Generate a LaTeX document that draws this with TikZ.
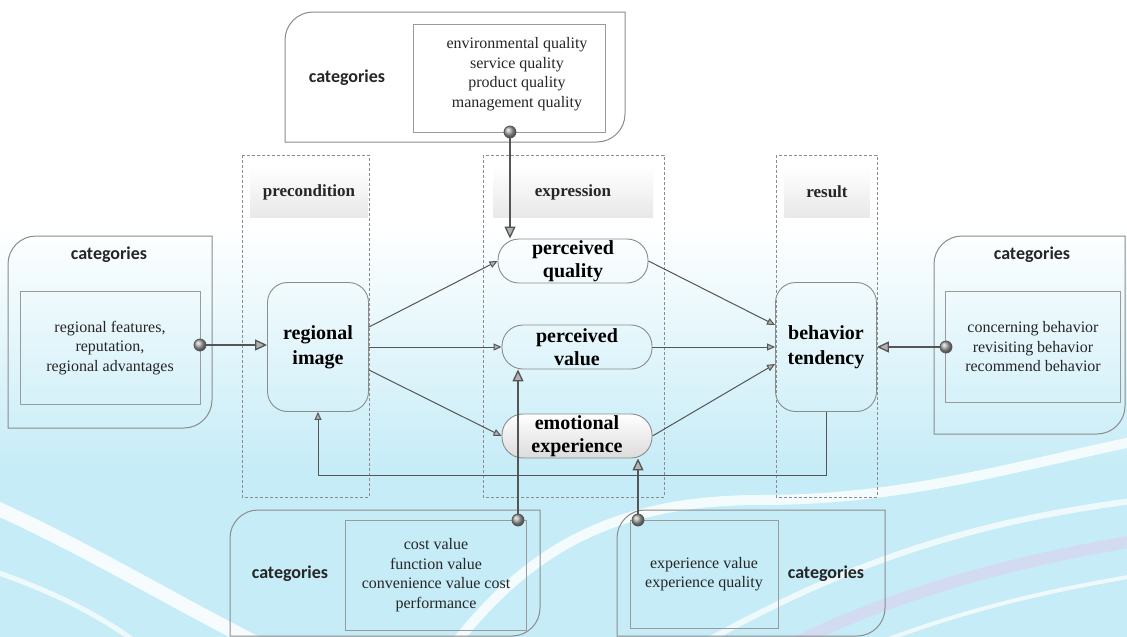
\documentclass[tikz,border=0pt]{standalone}
\usepackage{fontspec}
\setmainfont{Liberation Serif}
\newfontfamily\catfont{Carlito}
\usetikzlibrary{arrows.meta,calc}
\definecolor{bgblue}{HTML}{C6ECF7}
\definecolor{linegray}{HTML}{8C8C8C}
\definecolor{innergray}{HTML}{9A9A9A}
\definecolor{arrgray}{HTML}{555555}
\newcommand\rdbox[5]{%
  \draw[outerbox] (#1,#4) -- (#1,#2+#5) .. controls (#1,#2+0.45*#5) and (#1+0.45*#5,#2) .. (#1+#5,#2)
    -- (#3,#2) -- (#3,#4-#5) .. controls (#3,#4-0.45*#5) and (#3-0.45*#5,#4) .. (#3-#5,#4) -- cycle;}
\tikzset{
  outerbox/.style={draw=linegray, line width=1pt},
  lane/.style={draw=linegray, dash pattern=on 3pt off 2pt, line width=0.7pt},
  header/.style={minimum height=51pt, inner sep=0pt, top color=white, bottom color=black!9,
     font=\fontsize{17}{20}\selectfont\bfseries, text=black!85},
  bignode/.style={draw=linegray, line width=0.9pt, rounded corners=20pt, minimum width=101pt,
     minimum height=129pt, align=center, font=\fontsize{20}{25}\selectfont\bfseries, inner sep=0pt},
  pill/.style={draw=linegray, line width=0.9pt, rounded corners=21pt, minimum width=150pt,
     minimum height=44pt, align=center, font=\fontsize{20}{23}\selectfont\bfseries, inner sep=0pt},
  catlabel/.style={font=\catfont\fontsize{18}{22}\selectfont\bfseries, text=black!85},
  innerbox/.style={draw=innergray, line width=0.9pt, inner sep=0pt},
  cattext/.style={align=center, font=\fontsize{16}{19.5}\selectfont, text=black!85},
  dot/.style={circle, draw=arrgray, line width=0.8pt, ball color=gray!70, minimum size=12pt, inner sep=0pt},
  bigarr/.style={draw=arrgray, line width=1.3pt, -{Triangle[length=12pt,width=11pt,fill=gray!60]}},
  smallarr/.style={draw=arrgray, line width=1pt, -{Triangle[length=8pt,width=7pt,fill=gray!60]}},
}
\begin{document}
\begin{tikzpicture}[x=1pt,y=-1pt]
\useasboundingbox (0,0) rectangle (1127,637);
% background
\fill[white] (0,0) rectangle (1127,637);
\shade[top color=white, bottom color=bgblue] (0,225) rectangle (1127,470);
\fill[bgblue] (0,469) rectangle (1127,637);
% decorative swooshes
\draw[white, line width=14pt, opacity=0.85] (-10,505) .. controls (90,550) and (170,600) .. (270,650);
\draw[white, line width=5pt, opacity=0.7] (-10,570) .. controls (50,590) and (100,615) .. (140,645);
\draw[white, line width=10pt, opacity=0.8] (450,650) .. controls (520,560) and (600,500) .. (760,500) .. controls (900,500) and (1000,470) .. (1140,440);
\draw[white, line width=6pt, opacity=0.7] (700,645) .. controls (850,560) and (980,520) .. (1140,500);
\draw[blue!25!violet!20, line width=12pt, opacity=0.5] (780,650) .. controls (900,590) and (1020,560) .. (1140,540);
\draw[white, line width=4pt, opacity=0.7] (860,650) .. controls (960,610) and (1050,590) .. (1140,575);
% swimlanes
\draw[lane] (242,155) rectangle (369,497);
\draw[lane] (483,155) rectangle (664,497);
\draw[lane] (776,155) rectangle (877,497);
\node[header, minimum width=118pt] (h1) at (309,192) {precondition};
\node[header, minimum width=160pt] (h2) at (573,192) {expression};
\node[header, minimum width=85pt] (h3) at (827,192) {result};
% outer category boxes
\rdbox{285}{12}{625}{142}{28}
\rdbox{8}{236}{212}{428}{28}
\rdbox{934}{236}{1125}{434}{28}
\rdbox{230}{510}{540}{636}{28}
\rdbox{617}{510}{885}{636}{28}
% top categories
\node[catlabel] (ct) at (347,78) {categories};
\node[innerbox, minimum width=192pt, minimum height=108pt] (it) at (509,78) {};
\node[cattext] (tt) at (517,74) {environmental quality\\service quality\\product quality\\management quality};
% left categories
\node[catlabel] (cl) at (109,255) {categories};
\node[innerbox, minimum width=180pt, minimum height=113pt, cattext] (il) at (110,348) {regional features,\\reputation,\\regional advantages};
% right categories
\node[catlabel] (cr) at (1032,255) {categories};
\node[innerbox, minimum width=175pt, minimum height=111pt, cattext] (ir) at (1033,347) {concerning behavior\\revisiting behavior\\recommend behavior};
% bottom categories 1
\node[catlabel] (cb1) at (290,574) {categories};
\node[innerbox, minimum width=181pt, minimum height=110pt, cattext] (ib1) at (436,575) {cost value\\function value\\convenience value cost\\performance};
% bottom categories 2
\node[catlabel] (cb2) at (826,574) {categories};
\node[innerbox, minimum width=148pt, minimum height=108pt, cattext] (ib2) at (704,574) {experience value\\experience quality};
% main nodes
\node[bignode] (ri) at (318,347) {regional\\image};
\node[bignode] (bt) at (826,347) {behavior\\tendency};
\node[pill] (pq) at (573,261) {perceived\\quality};
\node[pill] (pv) at (577,347) {perceived\\value};
\node[pill, top color=white, bottom color=black!14] (ee) at (577,436) {emotional\\experience};
% dots
\node[dot] (d1) at (510,132) {};
\node[dot] (d2) at (200,345) {};
\node[dot] (d3) at (946,347) {};
\node[dot] (d4) at (518,520) {};
\node[dot] (d5) at (638,520) {};
% category connectors
\draw[bigarr] (d1) -- (d1 |- pq.north);
\draw[bigarr] (d2) -- (d2 -| ri.west);
\draw[bigarr] (d3) -- (d3 -| bt.east);
\draw[bigarr] (d4) -- (d4 |- pv.south);
\draw[bigarr] (d5) -- (d5 |- ee.south);
% main connectors
\draw[smallarr] ($(ri.east)+(0,-20)$) -- (pq.west);
\draw[smallarr] (ri.east) -- (pv.west);
\draw[smallarr] ($(ri.east)+(0,23)$) -- (ee.west);
\draw[smallarr] (pq.east) -- ($(bt.west)+(0,-22)$);
\draw[smallarr] (pv.east) -- (bt.west);
\draw[smallarr] (ee.east) -- ($(bt.west)+(0,17)$);
\coordinate (fb) at (0,475);
\draw[smallarr] (bt.south) -- (bt.south |- fb) -| (ri.south);
\end{tikzpicture}
\end{document}
